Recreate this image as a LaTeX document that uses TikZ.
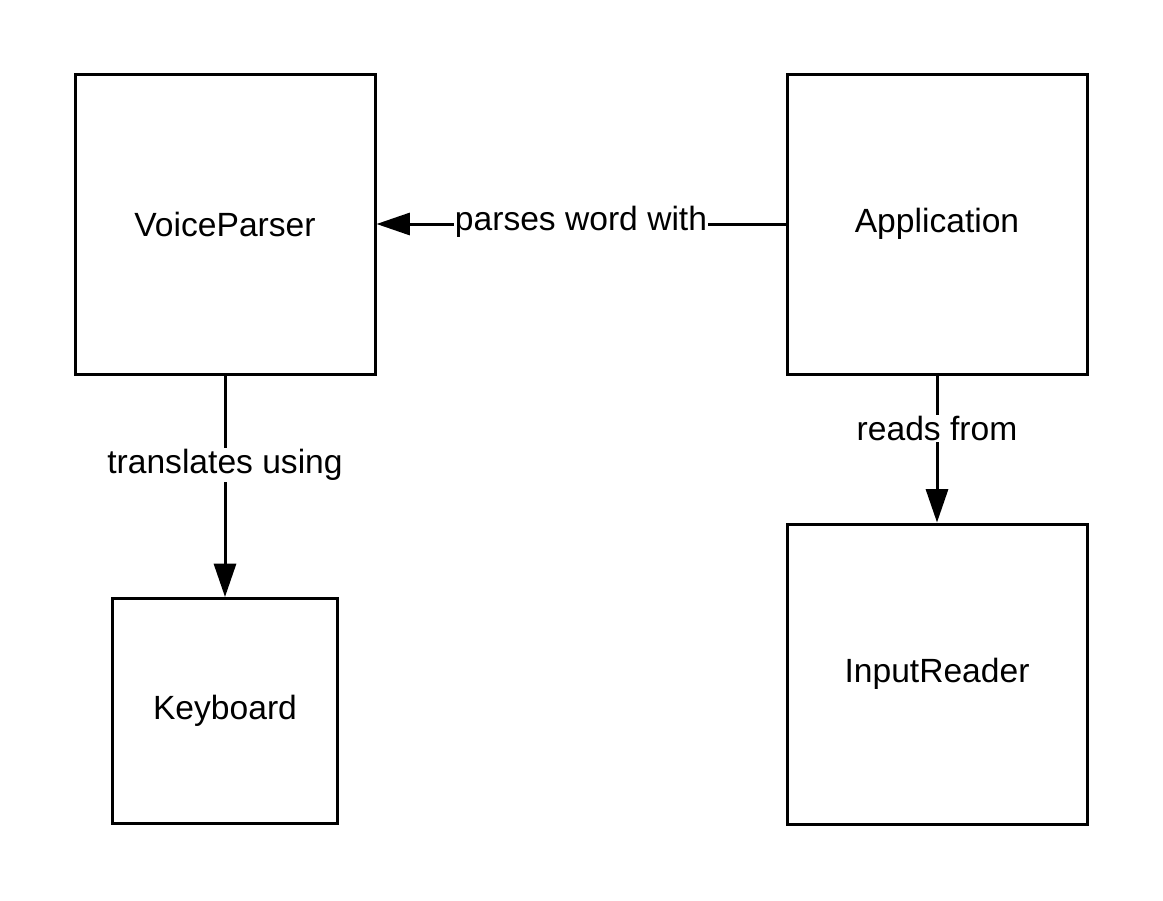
\documentclass[tikz,border=0pt]{standalone}
\usepackage{fontspec}
\setmainfont{Liberation Sans}
\usetikzlibrary{arrows.meta}
\begin{document}
\begin{tikzpicture}[x=0.75pt, y=-0.75pt,
  every node/.style={font=\fontsize{25.2}{30}\selectfont},
  cls/.style={draw, line width=2.25pt, inner sep=0pt, minimum size=225pt},
  rel/.style={line width=2.25pt, -{Triangle[length=25pt, width=16.5pt]}},
  lbl/.style={fill=white, inner sep=1pt}]
\useasboundingbox (0,0) rectangle (1163,900);
\node[cls] (VP) at (225,224) {VoiceParser};
\node[cls] (App) at (937,224) {Application};
\node[cls, minimum size=168.75pt] (KB) at (225,711) {Keyboard};
\node[cls] (IR) at (937,674) {InputReader};
\draw [rel] (App.west) -- node[pos=0.5, lbl, yshift=2pt] {parses word with} (VP.east);
\draw [rel] (VP.south) -- node[pos=0.405, lbl] {translates using} (KB.north);
\draw [rel] (App.south) -- node[pos=0.36, lbl] {reads from} (IR.north);
\end{tikzpicture}
\end{document}
